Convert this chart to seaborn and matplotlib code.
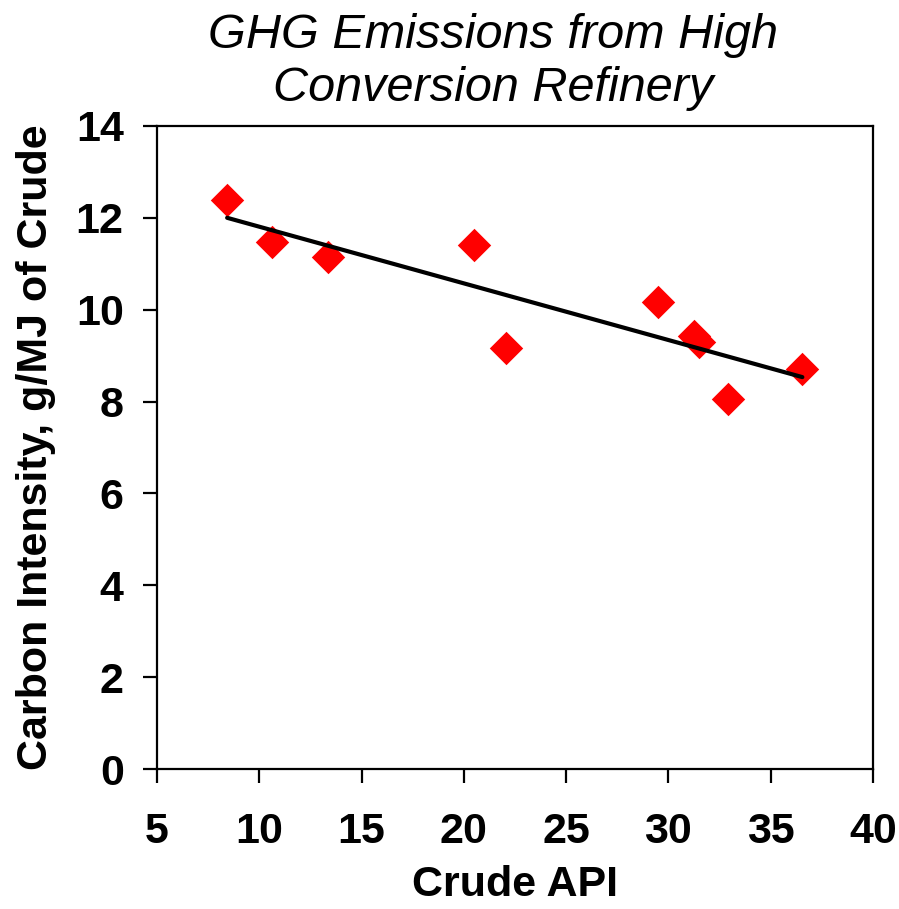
import matplotlib
matplotlib.use("Agg")
import matplotlib.pyplot as plt
import seaborn as sns
import pandas as pd

# values
crude_api = [8.43, 10.6, 13.35, 20.5, 22.05, 29.5, 31.25, 31.5, 32.9, 36.55]
carbon_intensity = [12.39, 11.48, 11.14, 11.40, 9.17, 10.17, 9.42, 9.30, 8.05, 8.70]

x_ticks = [5, 10, 15, 20, 25, 30, 35, 40]
y_ticks = [0, 2, 4, 6, 8, 10, 12, 14]

df = pd.DataFrame({"api": crude_api, "ci": carbon_intensity})

sns.set_style("white")
plt.rcParams["font.family"] = ["Liberation Sans", "DejaVu Sans"]
plt.rcParams["text.color"] = "black"
plt.rcParams["axes.labelcolor"] = "black"
plt.rcParams["xtick.color"] = "black"
plt.rcParams["ytick.color"] = "black"

fig = plt.figure(figsize=(8.99, 9.09), dpi=100)
ax = fig.add_axes([0.1746, 0.154, 0.7964, 0.7074])

sns.regplot(data=df, x="api", y="ci", ci=None, ax=ax, truncate=True,
            scatter=False, line_kws={"color": "black", "linewidth": 3})
sns.scatterplot(data=df, x="api", y="ci", ax=ax, marker="D", s=290,
                color="#ff0000", linewidth=0, zorder=1)

ax.set_xlim(5, 40)
ax.set_ylim(0, 14)
ax.set_xticks(x_ticks)
ax.set_yticks(y_ticks)
ax.tick_params(axis="both", direction="out", length=10, width=1.6,
               labelsize=31, color="black", labelcolor="black")
ax.tick_params(axis="x", pad=21, bottom=True)
ax.tick_params(axis="y", pad=14, left=True)
for lbl in ax.get_xticklabels() + ax.get_yticklabels():
    lbl.set_fontweight("bold")
for sp in ax.spines.values():
    sp.set_color("black")
    sp.set_linewidth(1.6)

ax.set_xlabel("Crude API", fontsize=31, fontweight="bold", labelpad=9,
              color="black")
ax.set_ylabel("Carbon Intensity, g/MJ of Crude", fontsize=31,
              fontweight="bold", labelpad=14, color="black")

fig.text(493 / 899, 1 - 62 / 909, "GHG Emissions from High\nConversion Refinery",
         ha="center", va="center", fontsize=35, fontstyle="italic",
         linespacing=1.22, color="black")

fig.savefig("out.png", dpi=100, facecolor="white")
